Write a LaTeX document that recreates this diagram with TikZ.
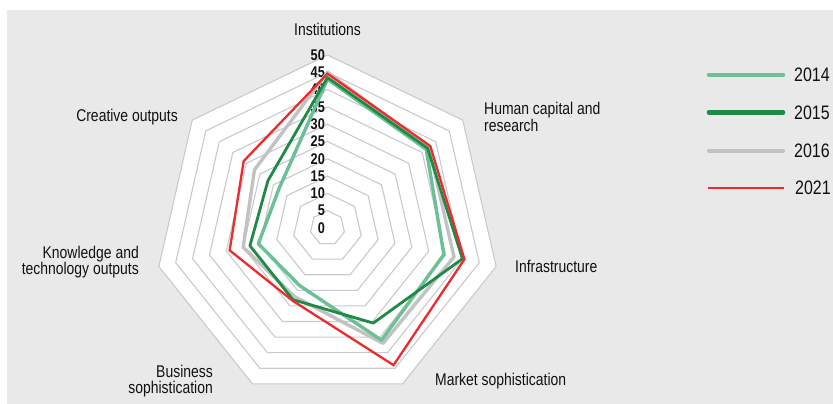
\documentclass[tikz,border=0pt]{standalone}
\usepackage{fontspec}
\setmainfont{Liberation Sans}[FakeStretch=0.82]
\usepackage{xcolor}
\usepackage{tikz}
\usetikzlibrary{positioning}

\definecolor{bggray}{HTML}{E8E9E8}
\definecolor{ringgray}{HTML}{CACACA}
\definecolor{lightgreen}{HTML}{6CBF96}
\definecolor{darkgreen}{HTML}{1E8A46}
\definecolor{softgray}{HTML}{C2C2C2}
\definecolor{chartred}{HTML}{EE2A2E}
\definecolor{textblack}{HTML}{111111}

\tikzset{
	axislabel/.style={font=\fontsize{17}{16.5}\selectfont, text=textblack, inner sep=0pt},
	scalelabel/.style={font=\bfseries\fontsize{15.5}{15.5}\selectfont, text=textblack, inner sep=0pt, anchor=east},
	legendlabel/.style={font=\fontsize{19.5}{19.5}\selectfont, text=textblack, inner sep=0pt, anchor=west},
	ring/.style={draw=ringgray, line width=1.1pt},
	line2014/.style={draw=lightgreen, line width=3.4pt, line join=round},
	line2015/.style={draw=darkgreen, line width=2.8pt, line join=round},
	line2016/.style={draw=softgray, line width=3.4pt, line join=round},
	line2021/.style={draw=chartred, line width=2.3pt, line join=miter},
}

\begin{document}
\begin{tikzpicture}[x=1pt, y=1pt]
	\useasboundingbox (0,0) rectangle (833,-404);
	\fill[bggray] (7,-10) rectangle (833,-404);

	% axis labels
	\node[axislabel] (inst) at (327.5,-29) {Institutions};
	\node[axislabel, anchor=west, align=left] (human) at (484,-117) {Human capital and\\research};
	\node[axislabel, anchor=west] (infra) at (515,-266) {Infrastructure};
	\node[axislabel, anchor=west] (market) at (435,-381) {Market sophistication};
	\node[axislabel, anchor=east, align=right] (business) at (213,-381) {Business\\sophistication};
	\node[axislabel, anchor=east, align=right] (knowledge) at (139,-262) {Knowledge and\\technology outputs};
	\node[axislabel, anchor=east] (creative) at (178,-117) {Creative outputs};

	\begin{scope}[shift={(327.5pt,-228pt)}, x=3.46pt, y=3.46pt]
		\fill[white] (90:50) \foreach \a in {38.571,-12.857,-64.286,-115.714,-167.143,-218.571} {-- (\a:50)} -- cycle;
		\foreach \k in {5,10,...,50}
			\draw[ring] (90:\k) \foreach \a in {38.571,-12.857,-64.286,-115.714,-167.143,-218.571} {-- (\a:\k)} -- cycle;

		\foreach \k in {0,5,...,50}
			\node[scalelabel] (s\k) at (-0.7,\k) {\k};

		% 2016
		\draw[line2016] (90:45) -- (38.571:37.5) -- (-12.857:37.5) -- (-64.286:37) -- (-115.714:22) -- (-167.143:25) -- (-218.571:27) -- cycle;
		% 2014
		\draw[line2014] (90:43) -- (38.571:36.5) -- (-12.857:34.5) -- (-64.286:36) -- (-115.714:18.5) -- (-167.143:20.5) -- (-218.571:18) -- cycle;
		% 2015
		\draw[line2015] (90:43.5) -- (38.571:37) -- (-12.857:40) -- (-64.286:30.5) -- (-115.714:23) -- (-167.143:23) -- (-218.571:22) -- cycle;
		% 2021
		\draw[line2021] (90:44.6) -- (38.571:38) -- (-12.857:40.6) -- (-64.286:44) -- (-115.714:23.3) -- (-167.143:29) -- (-218.571:31) -- cycle;
	\end{scope}

	% legend
	\coordinate (a2014) at (709,-75);   \coordinate (b2014) at (783,-75);
	\coordinate (a2015) at (709,-112.5); \coordinate (b2015) at (783,-112.5);
	\coordinate (a2016) at (709,-151);  \coordinate (b2016) at (783,-151);
	\coordinate (a2021) at (708,-188);  \coordinate (b2021) at (784,-188);
	\node[legendlabel] (t2014) at (794,-75) {2014};
	\node[legendlabel] (t2015) at (794,-112.5) {2015};
	\node[legendlabel] (t2016) at (794,-151) {2016};
	\node[legendlabel] (t2021) at (795,-188) {2021};
	\draw[line2014, line width=4.5pt, line cap=round] (a2014) -- (b2014);
	\draw[line2015, line width=4.5pt, line cap=round] (a2015) -- (b2015);
	\draw[line2016, line width=4pt, line cap=round] (a2016) -- (b2016);
	\draw[line2021, line width=2.5pt] (a2021) -- (b2021);
\end{tikzpicture}
\end{document}
